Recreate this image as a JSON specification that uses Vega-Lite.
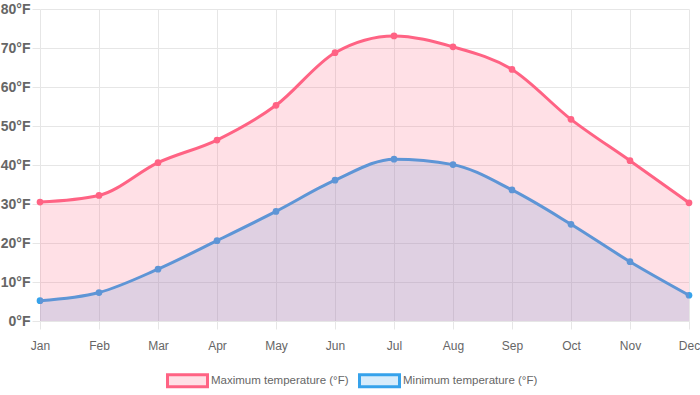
{
  "$schema": "https://vega.github.io/schema/vega-lite/v6.json",
  "width": 649,
  "height": 312,
  "autosize": {"type": "none"},
  "padding": {"left": 40, "top": 9, "right": 11, "bottom": 74},
  "background": "white",
  "config": {
    "view": {"stroke": null},
    "font": "Liberation Sans",
    "axis": {"gridColor": "#e6e6e6", "tickColor": "#e6e6e6", "domain": false, "tickSize": 8, "gridOpacity": 1, "tickOpacity": 1}
  },
  "data": {
    "values": [
      {"month": "Jan", "series": "Maximum temperature (°F)", "temp": 30.5},
      {"month": "Feb", "series": "Maximum temperature (°F)", "temp": 32.2},
      {"month": "Mar", "series": "Maximum temperature (°F)", "temp": 40.6},
      {"month": "Apr", "series": "Maximum temperature (°F)", "temp": 46.4},
      {"month": "May", "series": "Maximum temperature (°F)", "temp": 55.3},
      {"month": "Jun", "series": "Maximum temperature (°F)", "temp": 68.8},
      {"month": "Jul", "series": "Maximum temperature (°F)", "temp": 73.1},
      {"month": "Aug", "series": "Maximum temperature (°F)", "temp": 70.3},
      {"month": "Sep", "series": "Maximum temperature (°F)", "temp": 64.5},
      {"month": "Oct", "series": "Maximum temperature (°F)", "temp": 51.7},
      {"month": "Nov", "series": "Maximum temperature (°F)", "temp": 41.1},
      {"month": "Dec", "series": "Maximum temperature (°F)", "temp": 30.3},
      {"month": "Jan", "series": "Minimum temperature (°F)", "temp": 5.2},
      {"month": "Feb", "series": "Minimum temperature (°F)", "temp": 7.3},
      {"month": "Mar", "series": "Minimum temperature (°F)", "temp": 13.3},
      {"month": "Apr", "series": "Minimum temperature (°F)", "temp": 20.6},
      {"month": "May", "series": "Minimum temperature (°F)", "temp": 28.1},
      {"month": "Jun", "series": "Minimum temperature (°F)", "temp": 36.1},
      {"month": "Jul", "series": "Minimum temperature (°F)", "temp": 41.5},
      {"month": "Aug", "series": "Minimum temperature (°F)", "temp": 40.1},
      {"month": "Sep", "series": "Minimum temperature (°F)", "temp": 33.6},
      {"month": "Oct", "series": "Minimum temperature (°F)", "temp": 24.8},
      {"month": "Nov", "series": "Minimum temperature (°F)", "temp": 15.2},
      {"month": "Dec", "series": "Minimum temperature (°F)", "temp": 6.6}
    ]
  },
  "encoding": {
    "x": {
      "field": "month", "type": "ordinal",
      "sort": ["Jan","Feb","Mar","Apr","May","Jun","Jul","Aug","Sep","Oct","Nov","Dec"],
      "scale": {"type": "point", "padding": 0},
      "axis": {"title": null, "labelAngle": 0, "grid": true, "labelPadding": 11, "labelFontSize": 12, "labelColor": "#666666", "labelFont": "Liberation Sans"}
    },
    "y": {
      "field": "temp", "type": "quantitative",
      "scale": {"domain": [0, 80], "nice": false},
      "axis": {"title": null, "values": [0,10,20,30,40,50,60,70,80], "labelExpr": "datum.value + '°F'", "labelFontSize": 14, "labelFontWeight": "bold", "labelColor": "#666666", "labelPadding": 2, "labelFont": "Liberation Sans"}
    }
  },
  "layer": [
    {
      "transform": [{"filter": "datum.series == 'Minimum temperature (°F)'"}],
      "mark": {"type": "area", "interpolate": "monotone", "fillOpacity": 0.2},
      "encoding": {
        "color": {
          "field": "series", "type": "nominal",
          "scale": {"domain": ["Maximum temperature (°F)", "Minimum temperature (°F)"], "range": ["#FF6384", "#36A2EB"]},
          "legend": {
            "orient": "none", "legendX": 126, "legendY": 350, "direction": "horizontal", "title": null,
            "symbolType": "M-1,-0.3H1V0.3H-1Z", "symbolSize": 1600, "symbolStrokeWidth": 3,
            "labelFontSize": 11.5, "labelColor": "#666666", "labelFont": "Liberation Sans",
            "columnPadding": 4, "labelOffset": 2,
            "encode": {"symbols": {"update": {"fillOpacity": {"value": 0.2}, "opacity": {"value": 1}, "stroke": {"scale": "color", "field": "value"}, "strokeWidth": {"value": 3}}}}
          }
        }
      }
    },
    {
      "transform": [{"filter": "datum.series == 'Minimum temperature (°F)'"}],
      "mark": {"type": "line", "interpolate": "monotone", "color": "#36A2EB", "strokeWidth": 3},
      "encoding": {}
    },
    {
      "transform": [{"filter": "datum.series == 'Minimum temperature (°F)'"}],
      "mark": {"type": "point", "filled": true, "color": "#36A2EB", "size": 45, "opacity": 1},
      "encoding": {}
    },
    {
      "transform": [{"filter": "datum.series == 'Maximum temperature (°F)'"}],
      "mark": {"type": "area", "interpolate": "monotone", "fillOpacity": 0.2},
      "encoding": {"color": {"field": "series", "type": "nominal"}}
    },
    {
      "transform": [{"filter": "datum.series == 'Maximum temperature (°F)'"}],
      "mark": {"type": "line", "interpolate": "monotone", "color": "#FF6384", "strokeWidth": 3},
      "encoding": {}
    },
    {
      "transform": [{"filter": "datum.series == 'Maximum temperature (°F)'"}],
      "mark": {"type": "point", "filled": true, "color": "#FF6384", "size": 45, "opacity": 1},
      "encoding": {}
    }
  ]
}
